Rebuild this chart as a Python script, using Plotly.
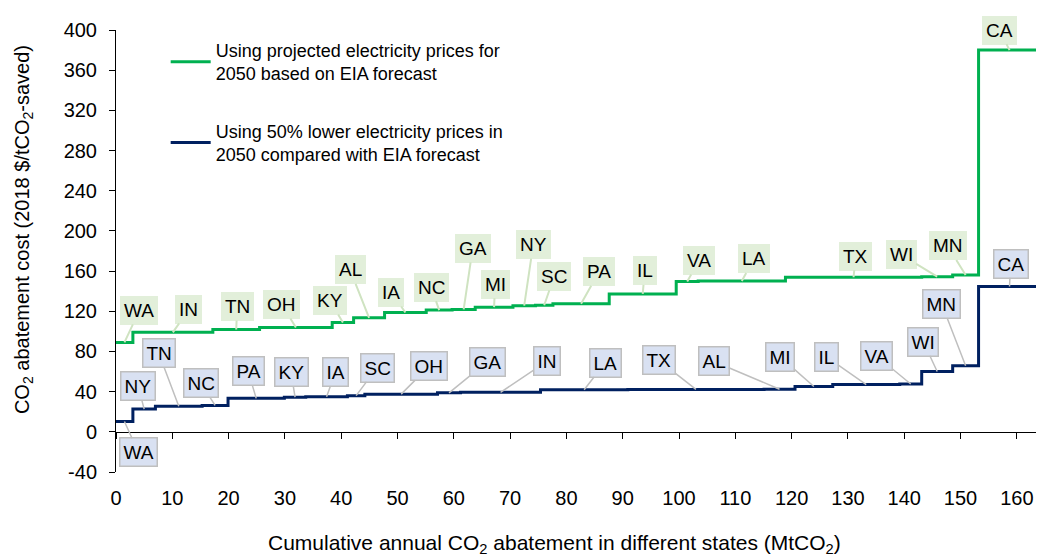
import plotly.graph_objects as go

# ---- data ----
abatement_states = ["WA", "NY", "TN", "NC", "PA", "KY", "IA", "SC", "OH", "GA",
                    "IN", "LA", "TX", "AL", "MI", "IL", "VA", "WI", "MN", "CA"]
abatement_mt = [3.0, 4.0, 8.3, 4.6, 10.0, 3.8, 7.4, 3.1, 12.9, 4.1,
                14.2, 15.5, 24.2, 5.5, 6.7, 11.9, 3.9, 5.5, 4.6, 11.0]

order_eia = ["WA", "IN", "TN", "OH", "KY", "AL", "IA", "NC", "GA", "MI",
             "NY", "SC", "PA", "IL", "VA", "LA", "TX", "WI", "MN", "CA"]
cost_eia = [89.0, 99.0, 101.8, 103.8, 108.8, 113.5, 118.8, 121.2, 121.8, 124.1,
            125.6, 126.0, 127.4, 137.3, 149.6, 150.2, 153.9, 154.4, 156.2, 380.0]

order_low = ["WA", "NY", "TN", "NC", "PA", "KY", "IA", "SC", "OH", "GA",
             "IN", "LA", "TX", "AL", "MI", "IL", "VA", "WI", "MN", "CA"]
cost_low = [10.3, 22.6, 25.5, 26.3, 33.3, 34.5, 35.0, 36.0, 37.5, 38.8,
            39.3, 41.8, 42.2, 42.4, 45.1, 47.0, 47.6, 60.0, 65.7, 144.6]

name_eia = "Using projected electricity prices for<br>2050 based on EIA forecast"
name_low = "Using 50% lower electricity prices in<br>2050 compared with EIA forecast"

y_ticks = list(range(-40, 401, 40))
y_ticktext = [str(v) for v in y_ticks]
x_ticks = list(range(0, 161, 10))

# ---- label callout offsets (pixels, box centre relative to pointer tip) ----
off_eia = {"WA": (15, -32), "IN": (16, -23), "TN": (1, -23), "OH": (-14, -23),
           "KY": (-13, -22), "AL": (-19, -48), "IA": (-14, -20), "NC": (-8, -23),
           "GA": (9, -61), "MI": (1, -23), "NY": (9, -61), "SC": (10, -29),
           "PA": (18, -32), "IL": (2, -23), "VA": (12, -21), "LA": (12, -22),
           "TX": (2, -21), "WI": (-36, -22), "MN": (-18, -29), "CA": (-10, -20)}
off_low = {"WA": (14, 31), "NY": (-6, -23), "TN": (-20, -53), "NC": (-14, -22),
           "PA": (-8, -27), "KY": (-4, -25), "IA": (9, -25), "SC": (21, -28),
           "OH": (28, -28), "GA": (38, -31), "IN": (46, -31), "LA": (21, -27),
           "TX": (-37, -29), "AL": (-66, -28), "MI": (-34, -30), "IL": (-40, -28),
           "VA": (-34, -28), "WI": (-14, -30), "MN": (-24, -62), "CA": (1, -23)}

width_of = dict(zip(abatement_states, abatement_mt))


def steps(order, costs):
    starts, mids = [], []
    c = 0.0
    for s in order:
        starts.append(c)
        mids.append(c + width_of[s] / 2.0)
        c += width_of[s]
    xs = starts + [c]
    ys = list(costs) + [costs[-1]]
    return xs, ys, mids


GREEN = "#00B050"
NAVY = "#002060"
FONT = "Arial, Liberation Sans, sans-serif"

x_e, y_e, mid_e = steps(order_eia, cost_eia)
x_l, y_l, mid_l = steps(order_low, cost_low)

fig = go.Figure()
fig.add_trace(go.Scatter(x=x_e, y=y_e, mode="lines", line=dict(color=GREEN, width=3, shape="hv"),
                         name=name_eia, legendgroup="a", xaxis="x"))
fig.add_trace(go.Scatter(x=x_l, y=y_l, mode="lines", line=dict(color=NAVY, width=3, shape="hv"),
                         name=name_low, legendgroup="b", xaxis="x2"))

annotations = []
for s, xm, v in zip(order_eia, mid_e, cost_eia):
    ax, ay = off_eia[s]
    annotations.append(dict(x=xm, y=v, xref="x", yref="y", text=s, showarrow=True,
                            ax=ax, ay=ay, arrowhead=0, arrowwidth=2, arrowcolor="#CFE3C1",
                            bgcolor="#E2EFDA", bordercolor="#E2EFDA", borderwidth=1, borderpad=3,
                            font=dict(family=FONT, size=19, color="black"), standoff=0))
for s, xm, v in zip(order_low, mid_l, cost_low):
    ax, ay = off_low[s]
    annotations.append(dict(x=xm, y=v, xref="x2", yref="y", text=s, showarrow=True,
                            ax=ax, ay=ay, arrowhead=0, arrowwidth=1.5, arrowcolor="#BFBFBF",
                            bgcolor="#D9E1F2", bordercolor="#BFBFBF", borderwidth=1.5, borderpad=3,
                            font=dict(family=FONT, size=19, color="black"), standoff=0))

annotations.append(dict(xref="paper", yref="paper", x=0.477, y=-0.162, yanchor="middle",
                        showarrow=False,
                        text="Cumulative annual CO<sub>2</sub> abatement in different states (MtCO<sub>2</sub>)",
                        font=dict(family=FONT, size=21, color="black")))
annotations.append(dict(xref="paper", yref="paper", x=-0.101, y=0.5475, xanchor="center",
                        yanchor="middle", showarrow=False, textangle=-90,
                        text="CO<sub>2</sub> abatement cost (2018 $/tCO<sub>2</sub>-saved)",
                        font=dict(family=FONT, size=20, color="black")))

x_range = [0, 163.4]
fig.update_layout(
    width=1038, height=557,
    margin=dict(l=116, r=2, t=30, b=85),
    plot_bgcolor="white", paper_bgcolor="white",
    font=dict(family=FONT, color="black"),
    xaxis=dict(range=x_range, tickvals=x_ticks, showgrid=False, zeroline=False, showline=False,
               ticks="outside", ticklen=8, tickcolor="rgba(0,0,0,0)",
               tickfont=dict(family=FONT, size=20, color="black")),
    xaxis2=dict(range=x_range, overlaying="x", anchor="free", position=40 / 440,
                tickvals=x_ticks, showticklabels=False, showgrid=False, zeroline=False,
                showline=True, linecolor="black", linewidth=1, ticks="outside", ticklen=6,
                tickcolor="black"),
    yaxis=dict(range=[-40, 400], tickvals=y_ticks, ticktext=y_ticktext, showgrid=False,
               zeroline=False, showline=True, linecolor="black", linewidth=1, ticks="outside",
               ticklen=6, tickcolor="black", tickfont=dict(family=FONT, size=20, color="black"),
               ticklabelstandoff=8),
    legend=dict(x=0.054, y=0.996, xanchor="left", yanchor="top", bgcolor="rgba(0,0,0,0)",
                font=dict(family=FONT, size=18, color="black"), tracegroupgap=31,
                valign="middle", itemwidth=40),
    annotations=annotations,
    showlegend=True,
)

fig.write_html("out.html", config={"displayModeBar": False},
               post_script="document.body.style.margin='0';")
